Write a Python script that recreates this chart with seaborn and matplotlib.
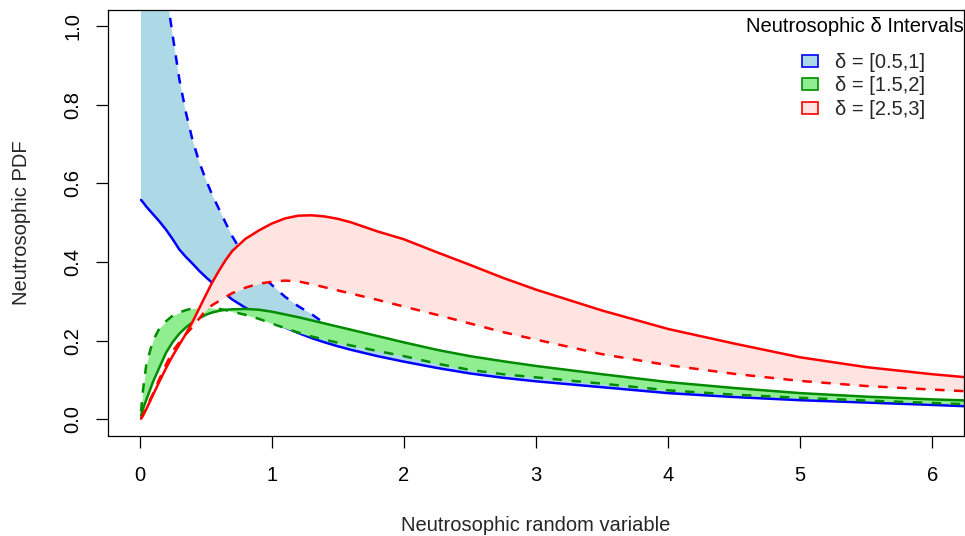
import matplotlib
matplotlib.use("Agg")
import matplotlib.pyplot as plt
from matplotlib.patches import Patch
import seaborn as sns
import numpy as np

# ---- data ----
x = [0.01, 0.025, 0.05, 0.1, 0.15, 0.2, 0.25, 0.3, 0.35, 0.4, 0.45, 0.5, 0.55, 0.6,
     0.65, 0.7, 0.8, 0.9, 1.0, 1.1, 1.2, 1.3, 1.4, 1.5, 1.6, 1.8, 2.0, 2.25, 2.5,
     2.75, 3.0, 3.5, 4.0, 4.5, 5.0, 5.5, 6.0, 6.3]

# delta = [0.5, 1]
blue_upper = [0.558, 0.552, 0.541, 0.522, 0.503, 0.482, 0.458, 0.432, 0.413, 0.396,
              0.378, 0.362, 0.347, 0.333, 0.319, 0.305, 0.284, 0.266, 0.250, 0.234,
              0.220, 0.207, 0.196, 0.186, 0.177, 0.161, 0.147, 0.131, 0.117, 0.106,
              0.097, 0.082, 0.067, 0.057, 0.049, 0.043, 0.037, 0.033]
blue_lower = [3.0, 2.6, 2.1, 1.6, 1.3, 1.09, 0.975, 0.865, 0.78, 0.71,
              0.655, 0.61, 0.57, 0.535, 0.50, 0.466, 0.41, 0.375, 0.342, 0.312,
              0.288, 0.268, 0.244, 0.229, 0.216, 0.197, 0.180, 0.161, 0.145, 0.132,
              0.121, 0.102, 0.085, 0.072, 0.061, 0.053, 0.046, 0.043]
# delta = [1.5, 2]
green_upper = [0.010, 0.027, 0.050, 0.095, 0.133, 0.170, 0.197, 0.218, 0.234, 0.247,
               0.257, 0.266, 0.272, 0.276, 0.279, 0.280, 0.281, 0.279, 0.274, 0.267,
               0.260, 0.252, 0.244, 0.236, 0.228, 0.212, 0.196, 0.177, 0.161, 0.148,
               0.136, 0.115, 0.095, 0.080, 0.067, 0.058, 0.051, 0.048]
green_lower = [0.020, 0.075, 0.140, 0.200, 0.232, 0.250, 0.264, 0.272, 0.278, 0.282,
               0.284, 0.284, 0.283, 0.281, 0.278, 0.274, 0.266, 0.256, 0.244, 0.232,
               0.221, 0.211, 0.203, 0.195, 0.188, 0.174, 0.161, 0.142, 0.126, 0.115,
               0.107, 0.091, 0.074, 0.063, 0.055, 0.048, 0.042, 0.038]
# delta = [2.5, 3]
red_upper = [0.002, 0.010, 0.026, 0.062, 0.097, 0.131, 0.162, 0.190, 0.218, 0.248,
             0.282, 0.316, 0.349, 0.378, 0.405, 0.428, 0.459, 0.480, 0.498, 0.511,
             0.518, 0.519, 0.516, 0.510, 0.501, 0.478, 0.458, 0.425, 0.393, 0.360,
             0.330, 0.277, 0.230, 0.193, 0.158, 0.133, 0.115, 0.106]
red_lower = [0.003, 0.012, 0.030, 0.065, 0.104, 0.140, 0.174, 0.196, 0.217, 0.235,
             0.256, 0.278, 0.291, 0.301, 0.311, 0.321, 0.335, 0.345, 0.350, 0.353,
             0.351, 0.344, 0.336, 0.328, 0.320, 0.304, 0.287, 0.266, 0.244, 0.222,
             0.203, 0.166, 0.138, 0.116, 0.098, 0.085, 0.076, 0.071]

legend_labels = ["δ = [0.5,1]", "δ = [1.5,2]", "δ = [2.5,3]"]
legend_title = "Neutrosophic δ Intervals"
x_ticks = [0, 1, 2, 3, 4, 5, 6]
y_ticks = [0.0, 0.2, 0.4, 0.6, 0.8, 1.0]

# ---- style ----
sns.set_style("ticks")
plt.rcParams['font.family'] = ['Liberation Sans', 'DejaVu Sans']
FS = 14.5
LW = 1.8

groups = [
    (blue_upper, blue_lower, "#0000FF", "#ADD8E6"),
    (green_upper, green_lower, "#008B00", "#90EE90"),
    (red_upper, red_lower, "#FF0000", "#FFE4E1"),
]

fig = plt.figure(figsize=(9.65, 5.36), dpi=100)
ax = fig.add_axes([108 / 965, (536 - 436) / 536, (964 - 108) / 965, (436 - 9.5) / 536])

xa = np.array(x)
for i, (up, lo, lc, fc) in enumerate(groups):
    z = 1 + 2 * i
    ax.fill_between(xa, lo, up, color=fc, linewidth=0, zorder=z)
    sns.lineplot(x=x, y=up, ax=ax, color=lc, linewidth=LW, sort=False,
                 estimator=None, zorder=z + 1)
    sns.lineplot(x=x, y=lo, ax=ax, color=lc, linewidth=LW, sort=False,
                 estimator=None, zorder=z + 1, linestyle=(0, (3.8, 3.8)))

ax.set_xlim(-0.24, 6.24)
ax.set_ylim(-0.042, 1.042)
ax.set_xticks(x_ticks)
ax.set_xticklabels([str(t) for t in x_ticks])
ax.set_yticks(y_ticks)
ax.set_yticklabels([f"{t:.1f}" for t in y_ticks], rotation=90, va='center')

for s in ax.spines.values():
    s.set_visible(True)
    s.set_color("black")
    s.set_linewidth(0.9)
    s.set_zorder(10)
ax.tick_params(axis='both', direction='out', length=8.5, width=0.9, color='black',
               labelsize=FS, labelcolor='black')
ax.tick_params(axis='x', pad=13)
ax.tick_params(axis='y', pad=10)

ax.set_xlabel("Neutrosophic random variable", fontsize=FS, labelpad=22.5)
ax.set_ylabel("Neutrosophic PDF", fontsize=FS, labelpad=23)

handles = [Patch(facecolor=fc, edgecolor=lc, linewidth=1.2) for _, _, lc, fc in groups]
leg = ax.legend(handles, legend_labels, loc='upper left',
                bbox_to_anchor=(802 / 965, 1 - 53 / 536), bbox_transform=fig.transFigure,
                frameon=False, borderpad=0, borderaxespad=0, fontsize=FS,
                handlelength=0.8, handleheight=0.55, handletextpad=0.85, labelspacing=0.22)
leg.set_zorder(20)
fig.text(855 / 965, 1 - 26 / 536, legend_title, ha='center', va='center',
         fontsize=FS, color='black')

fig.savefig("out.png", dpi=100)
